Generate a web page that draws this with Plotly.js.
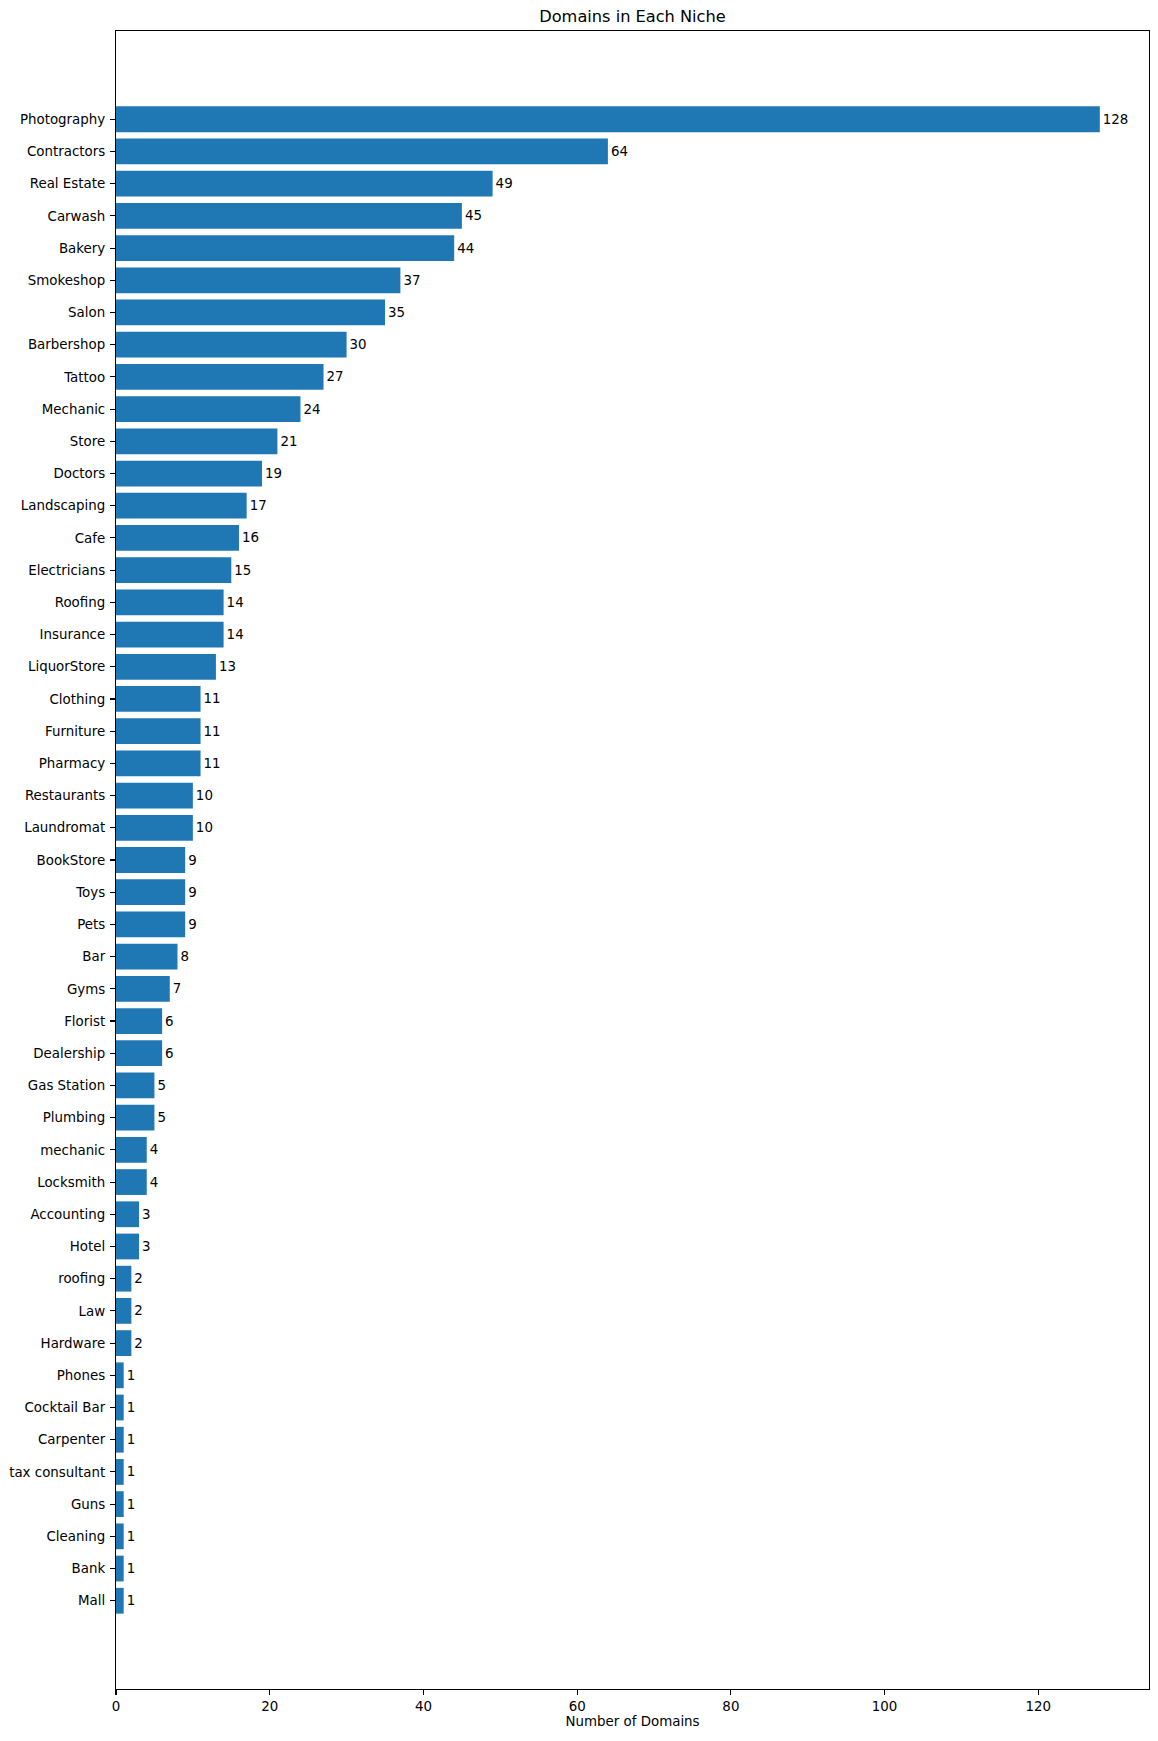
<!DOCTYPE html>
<html>
<head>
<meta charset="utf-8">
<script src="https://cdn.plot.ly/plotly-3.0.1.min.js"></script>
<style>html,body{margin:0;padding:0;background:#fff;}#chart{width:1158px;height:1741px;}</style>
</head>
<body>
<div id="chart"></div>
<script>
const niches = ["Photography","Contractors","Real Estate","Carwash","Bakery","Smokeshop","Salon","Barbershop","Tattoo","Mechanic","Store","Doctors","Landscaping","Cafe","Electricians","Roofing","Insurance","LiquorStore","Clothing","Furniture","Pharmacy","Restaurants","Laundromat","BookStore","Toys","Pets","Bar","Gyms","Florist","Dealership","Gas Station","Plumbing","mechanic","Locksmith","Accounting","Hotel","roofing","Law","Hardware","Phones","Cocktail Bar","Carpenter","tax consultant","Guns","Cleaning","Bank","Mall"];
const domainCounts = [128,64,49,45,44,37,35,30,27,24,21,19,17,16,15,14,14,13,11,11,11,10,10,9,9,9,8,7,6,6,5,5,4,4,3,3,2,2,2,1,1,1,1,1,1,1,1];
const xTicks = [0,20,40,60,80,100,120];

const font = "DejaVu Sans, Verdana, sans-serif";
const fs = 13.4;
const n = niches.length;
const trace = {
  type: "bar",
  orientation: "h",
  y: niches,
  x: domainCounts,
  marker: {color: "#1f77b4", line: {width: 0}},
  text: domainCounts.map(String),
  textposition: "outside",
  textfont: {family: font, size: fs, color: "#000"},
  constraintext: "none",
  cliponaxis: false,
  hoverinfo: "x+y"
};
const layout = {
  width: 1158, height: 1741,
  margin: {l: 116.3, r: 9.3, t: 30.7, b: 52},
  paper_bgcolor: "#fff", plot_bgcolor: "#fff",
  showlegend: false,
  bargap: 0.2,
  font: {family: font, size: fs, color: "#000"},
  title: {text: "Domains in Each Niche", font: {family: font, size: 16.2, color: "#000"}, x: 0.5, xref: "paper", y: 1 - 16.7/1741, yanchor: "middle"},
  xaxis: {
    range: [0, 134.4], tickvals: xTicks, ticktext: xTicks.map(String),
    showgrid: false, zeroline: false,
    showline: true, mirror: true, linecolor: "#000", linewidth: 1.1,
    ticks: "outside", ticklen: 5, tickwidth: 1.1, tickcolor: "#000",
    tickfont: {family: font, size: fs, color: "#000"},
    title: {text: "Number of Domains", font: {family: font, size: fs, color: "#000"}, standoff: 0},
    automargin: false
  },
  yaxis: {
    type: "category", categoryorder: "array", categoryarray: niches,
    range: [n - 1 + 2.74, -2.74],
    showgrid: false, zeroline: false,
    showline: true, mirror: true, linecolor: "#000", linewidth: 1.1,
    ticks: "outside", ticklen: 5, tickwidth: 1.1, tickcolor: "#000",
    ticklabelstandoff: 2,
    tickfont: {family: font, size: fs, color: "#000"},
    automargin: false
  }
};
Plotly.newPlot("chart", [trace], layout, {displayModeBar: false, staticPlot: true});
</script>
</body>
</html>
